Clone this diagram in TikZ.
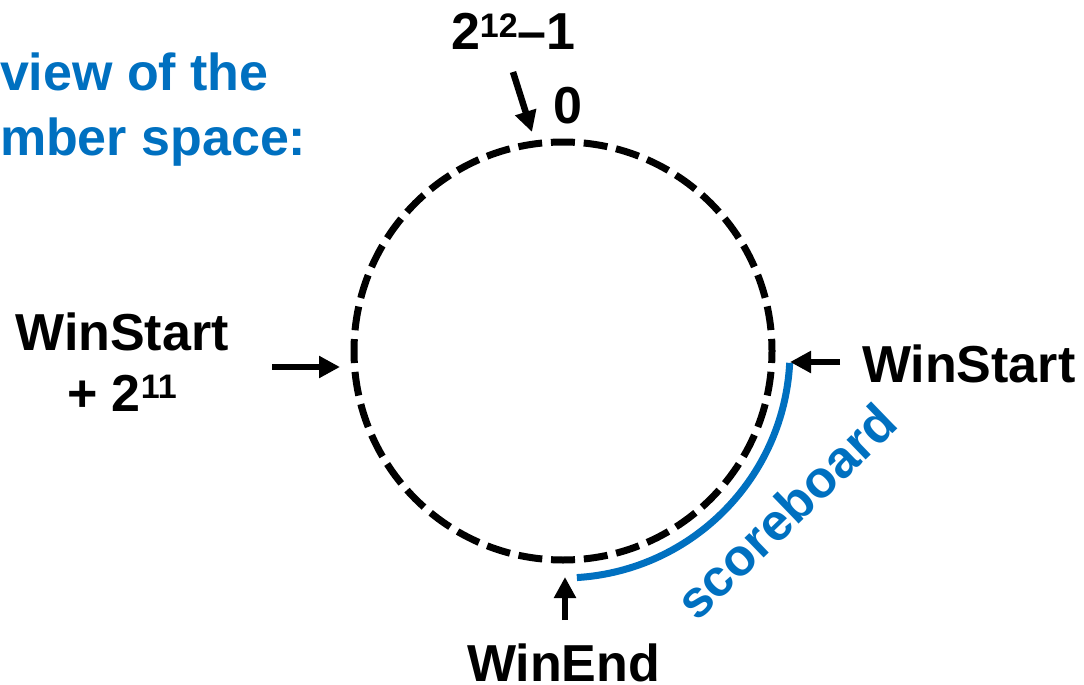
\documentclass[tikz,border=0pt]{standalone}
\usepackage{fontspec}
\setmainfont{Liberation Sans}
\usetikzlibrary{arrows.meta}
\definecolor{pblue}{HTML}{0070C0}
\begin{document}
\begin{tikzpicture}[x=1pt,y=-1pt,
  lbl/.style={font=\fontsize{52}{60}\selectfont\bfseries, inner sep=0pt, outer sep=0pt},
  ttl/.style={lbl, text=pblue},
  arr/.style={line width=6.5pt, -{Triangle[width=21pt,length=21pt]}},
  ring/.style={line width=7pt, dash pattern=on 24pt off 8.83pt, dash phase=12pt},
  board/.style={line width=7pt, draw=pblue}]
\newcommand{\supx}[1]{\raisebox{13pt}{\fontsize{34}{34}\selectfont #1}}
\useasboundingbox (0,0) rectangle (1084,685);

% title (cut off at left)
\node[ttl, anchor=base west] (t1) at (0,90) {view of the};
\node[ttl, anchor=base west] (t2) at (0,155) {mber space:};

% ring
\coordinate (c) at (563,351);
\draw[ring] (c) circle[radius=209];

% scoreboard arc
\draw[board] (c) ++(3:227) coordinate (bs) arc[start angle=3, end angle=86.5, radius=227] coordinate (be);
\node[lbl, text=pblue, rotate=44] (sb) at (786,511) {scoreboard};

% labels
\node[lbl, anchor=base west] (top) at (451,50) {2\supx{12}–1};
\node[lbl, anchor=base west] (zero) at (553,123) {0};
\node[lbl, anchor=base west] (ws) at (862,382) {WinStart};
\node[lbl, anchor=base] (wsl1) at (122,350) {WinStart};
\node[lbl, anchor=base] (wsl2) at (122,411) {+ 2\supx{11}};
\node[lbl, anchor=base west] (we) at (467,681) {WinEnd};

% arrows
\coordinate (a1s) at (513,72);  \coordinate (a1e) at (532,132);
\coordinate (a2s) at (272,367); \coordinate (a2e) at (340,367);
\coordinate (a3s) at (840,362); \coordinate (a3e) at (790,362);
\coordinate (a4s) at (565,620); \coordinate (a4e) at (565,577);
\draw[arr] (a1s) -- (a1e);
\draw[arr] (a2s) -- (a2e);
\draw[arr] (a3s) -- (a3e);
\draw[arr] (a4s) -- (a4e);
\end{tikzpicture}
\end{document}
